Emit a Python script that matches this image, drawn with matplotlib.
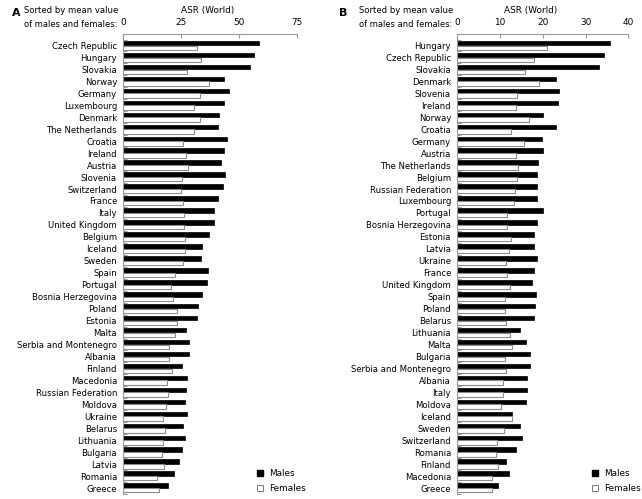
import matplotlib.pyplot as plt
from matplotlib.patches import Patch

# === Данные ===
countries_a = ["Czech Republic", "Hungary", "Slovakia", "Norway", "Germany", "Luxembourg",
               "Denmark", "The Netherlands", "Croatia", "Ireland", "Austria", "Slovenia",
               "Switzerland", "France", "Italy", "United Kingdom", "Belgium", "Iceland",
               "Sweden", "Spain", "Portugal", "Bosnia Herzegovina", "Poland", "Estonia",
               "Malta", "Serbia and Montenegro", "Albania", "Finland", "Macedonia",
               "Russian Federation", "Moldova", "Ukraine", "Belarus", "Lithuania",
               "Bulgaria", "Latvia", "Romania", "Greece"]
males_a = [58.5, 56.5, 54.5, 43.5, 45.7, 43.5, 41.3, 40.7, 44.8, 43.3, 42.0, 44.0,
           42.8, 40.7, 39.2, 39.2, 37.1, 33.8, 33.5, 36.6, 36.1, 33.8, 32.1, 31.9,
           27.0, 28.3, 28.2, 25.3, 27.5, 27.0, 26.6, 27.5, 25.9, 26.6, 25.3, 24.2,
           22.0, 19.4]
females_a = [31.9, 33.6, 27.3, 37.1, 32.9, 30.6, 32.9, 30.6, 25.6, 26.9, 27.8, 25.2,
             24.9, 25.6, 26.3, 26.3, 26.6, 26.7, 25.9, 22.4, 20.7, 21.6, 23.3, 23.3,
             22.4, 19.6, 19.6, 20.8, 18.7, 19.4, 18.5, 17.2, 18.0, 16.9, 16.8, 17.5,
             14.4, 15.5]
ticks_a = [0, 25, 50, 75]

countries_b = ["Hungary", "Czech Republic", "Slovakia", "Denmark", "Slovenia", "Ireland",
               "Norway", "Croatia", "Germany", "Austria", "The Netherlands", "Belgium",
               "Russian Federation", "Luxembourg", "Portugal", "Bosnia Herzegovina",
               "Estonia", "Latvia", "Ukraine", "France", "United Kingdom", "Spain",
               "Poland", "Belarus", "Lithuania", "Malta", "Bulgaria",
               "Serbia and Montenegro", "Albania", "Italy", "Moldova", "Iceland",
               "Sweden", "Switzerland", "Romania", "Finland", "Macedonia", "Greece"]
males_b = [35.7, 34.2, 33.2, 23.2, 23.9, 23.5, 20.0, 23.2, 19.8, 20.0, 18.8, 18.6,
           18.7, 18.6, 20.0, 18.7, 17.9, 17.9, 18.7, 18.0, 17.4, 18.5, 18.1, 17.9,
           14.7, 16.0, 17.0, 17.1, 16.2, 16.2, 16.0, 12.8, 14.7, 15.2, 13.8, 11.5,
           12.2, 9.5]
females_b = [21.05, 17.9, 15.8, 19.2, 13.9, 13.7, 16.8, 12.6, 15.7, 13.8, 14.3, 14.0,
             13.5, 13.2, 11.7, 11.7, 12.6, 12.0, 11.4, 11.7, 12.3, 11.2, 11.2, 11.5,
             12.3, 12.9, 11.2, 11.5, 10.8, 10.8, 10.3, 12.9, 11.0, 9.4, 9.1, 9.6,
             8.2, 8.0]
ticks_b = [0, 10, 20, 30, 40]

plt.rcParams['font.family'] = ['DejaVu Sans']
fs = 6.1
grey = "#999999"

fig = plt.figure(figsize=(6.42, 4.99), dpi=100)


# === Одна панель ===
def panel(left, width, countries, males, females, ticks, letter, letter_x, text_x, asr_x, leg_x):
    ax = fig.add_axes([left / 642, 1 - 494 / 499, width / 642, 460 / 499])
    n = len(countries)
    y = list(range(n))
    ax.barh([i - 0.2 for i in y], males, height=0.38, color="black", edgecolor="black", linewidth=0.5)
    ax.barh([i + 0.19 for i in y], females, height=0.36, color="white", edgecolor="#8c8c8c", linewidth=0.8)

    ax.set_ylim(n - 0.63, -0.96)
    ax.set_xlim(ticks[0], ticks[-1])
    ax.set_yticks(y)
    ax.set_yticklabels(countries, fontsize=fs)
    ax.set_yticks([i + 0.5 for i in range(-1, n)], minor=True)
    ax.tick_params(axis="y", which="major", length=0, pad=4.5)
    ax.tick_params(axis="y", which="minor", direction="in", length=3, color=grey, width=0.8)

    ax.xaxis.tick_top()
    ax.set_xticks(ticks)
    ax.set_xticklabels([str(t) for t in ticks], fontsize=fs + 0.3)
    ax.tick_params(axis="x", direction="in", length=3, color=grey, width=0.8, pad=5)

    for s in ["right", "bottom"]:
        ax.spines[s].set_visible(False)
    for s in ["left", "top"]:
        ax.spines[s].set_color(grey)
        ax.spines[s].set_linewidth(0.8)

    # заголовки
    fig.text(letter_x / 642, 1 - 13.5 / 499, letter, fontsize=8, fontweight="bold", va="center")
    fig.text(text_x / 642, 1 - 10.5 / 499, "Sorted by mean value", fontsize=fs, va="center")
    fig.text(text_x / 642, 1 - 24.5 / 499, "of males and females:", fontsize=fs - 0.1, va="center")
    fig.text(asr_x / 642, 1 - 10.5 / 499, "ASR (World)", fontsize=fs + 0.3, va="center", ha="center")

    # легенда
    handles = [Patch(facecolor="black", edgecolor="black", label="Males"),
               Patch(facecolor="white", edgecolor="#777777", linewidth=0.7, label="Females")]
    ax.legend(handles=handles, loc="lower left", bbox_to_anchor=(leg_x / 642, 1 - 493 / 499),
              bbox_transform=fig.transFigure, frameon=False, fontsize=fs + 0.3,
              handlelength=0.75, handleheight=0.75, handletextpad=0.7,
              labelspacing=0.65, borderpad=0, borderaxespad=0)
    return ax


panel(123.3, 174, countries_a, males_a, females_a, ticks_a, "A", 11.5, 24, 208, 256.5)
panel(457.3, 171, countries_b, males_b, females_b, ticks_b, "B", 339, 359, 531, 591.5)

fig.savefig("out.png", dpi=100)
